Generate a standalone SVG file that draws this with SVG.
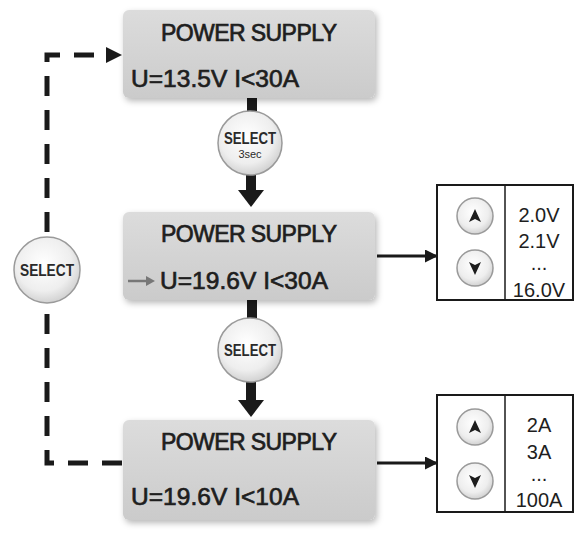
<svg xmlns="http://www.w3.org/2000/svg" width="587" height="537" viewBox="0 0 587 537">
<defs>
<linearGradient id="boxg" x1="0" y1="0" x2="0" y2="1">
<stop offset="0" stop-color="#dcdcdc"/>
<stop offset="1" stop-color="#cbcbcb"/>
</linearGradient>
<radialGradient id="btng" cx="0.45" cy="0.4" r="0.6">
<stop offset="0" stop-color="#ffffff"/>
<stop offset="0.7" stop-color="#eeeeee"/>
<stop offset="1" stop-color="#d2d2d2"/>
</radialGradient>
<filter id="sh" x="-10%" y="-15%" width="125%" height="140%">
<feDropShadow dx="2" dy="3" stdDeviation="3" flood-color="#000" flood-opacity="0.28"/>
</filter>
<marker id="ah" markerWidth="13" markerHeight="13" refX="12" refY="6.5" orient="auto" markerUnits="userSpaceOnUse">
<path d="M0,0 L13,6.5 L0,13 z" fill="#1a1a1a"/>
</marker>
</defs>
<style>
.box{fill:url(#boxg);filter:url(#sh)}
.t{font-family:"Liberation Sans",Arial,sans-serif;fill:#1e1e1e;stroke:#1e1e1e;stroke-width:0.7}
.ps{font-size:23px}
.u{font-size:24.5px}
.sel{font-family:"Liberation Sans",Arial,sans-serif;font-weight:bold;font-size:17px;fill:#2a2a2a;text-anchor:middle}
.btn{fill:url(#btng);stroke:#9a9a9a;stroke-width:1.5}
.panel{fill:#fff;stroke:#1a1a1a;stroke-width:2}
.val{font-family:"Liberation Sans",Arial,sans-serif;font-size:20px;fill:#1e1e1e;text-anchor:middle}
.dash{fill:none;stroke:#1a1a1a;stroke-width:5;stroke-dasharray:20 14}
.solid{fill:#1a1a1a}
</style>

<g id="connectors">
<rect class="solid" x="247" y="98" width="10" height="16"/>
<rect class="solid" x="246" y="174" width="10" height="17"/>
<polygon class="solid" points="238,190 264,190 251,207"/>
<rect class="solid" x="247" y="300" width="10" height="20"/>
<rect class="solid" x="246" y="380" width="10" height="22"/>
<polygon class="solid" points="238,400 264,400 251,417"/>
<line x1="377" y1="256" x2="437" y2="256" stroke="#1a1a1a" stroke-width="3" marker-end="url(#ah)"/>
<line x1="377" y1="463" x2="437" y2="463" stroke="#1a1a1a" stroke-width="3" marker-end="url(#ah)"/>
<path class="dash" d="M122,463 H47 V55 H106"/>
<polygon class="solid" points="106,47 122,55 106,63"/>
</g>

<g id="box1">
<rect class="box" x="123" y="10" width="252" height="88" rx="6"/>
<text class="t ps" x="249" y="41" text-anchor="middle" textLength="176">POWER SUPPLY</text>
<text class="t u" x="131" y="87" textLength="168">U=13.5V I&lt;30A</text>
</g>

<g id="select1">
<circle class="btn" cx="250" cy="143" r="32"/>
<text class="sel" x="250" y="144" textLength="52" lengthAdjust="spacingAndGlyphs">SELECT</text>
<text class="sel" x="250" y="158" style="font-size:11px;font-weight:normal">3sec</text>
</g>

<g id="box2">
<rect class="box" x="123" y="212" width="252" height="88" rx="6"/>
<text class="t ps" x="249" y="242" text-anchor="middle" textLength="176">POWER SUPPLY</text>
<path d="M128,281 H148" stroke="#777" stroke-width="2.5"/>
<polygon points="146,276 155,281 146,286" fill="#777"/>
<text class="t u" x="160" y="289" textLength="168">U=19.6V I&lt;30A</text>
</g>

<g id="select2">
<circle class="btn" cx="250" cy="350" r="32"/>
<text class="sel" x="250" y="356" textLength="52" lengthAdjust="spacingAndGlyphs">SELECT</text>
</g>

<g id="box3">
<rect class="box" x="123" y="420" width="252" height="100" rx="6"/>
<text class="t ps" x="249" y="450" text-anchor="middle" textLength="176">POWER SUPPLY</text>
<text class="t u" x="131" y="505" textLength="168">U=19.6V I&lt;10A</text>
</g>

<g id="selectLeft">
<circle class="btn" cx="47" cy="270" r="33"/>
<text class="sel" x="47" y="276" textLength="54" lengthAdjust="spacingAndGlyphs">SELECT</text>
</g>

<g id="panel1">
<rect class="panel" x="437" y="185" width="136" height="115"/>
<line x1="505" y1="185" x2="505" y2="300" stroke="#1a1a1a" stroke-width="1.5"/>
<circle class="btn" cx="475" cy="216" r="18"/>
<polygon points="469,222 475,209 481,222 475,219" fill="#1e1e1e"/>
<circle class="btn" cx="475" cy="268" r="18"/>
<polygon points="469,262 475,265 481,262 475,275" fill="#1e1e1e"/>
<text class="val" x="539" y="222">2.0V</text>
<text class="val" x="539" y="248">2.1V</text>
<text class="val" x="539" y="270">...</text>
<text class="val" x="539" y="297">16.0V</text>
</g>

<g id="panel2">
<rect class="panel" x="437" y="395" width="136" height="117"/>
<line x1="505" y1="395" x2="505" y2="512" stroke="#1a1a1a" stroke-width="1.5"/>
<circle class="btn" cx="475" cy="427" r="18"/>
<polygon points="469,433 475,420 481,433 475,430" fill="#1e1e1e"/>
<circle class="btn" cx="475" cy="481" r="18"/>
<polygon points="469,475 475,478 481,475 475,488" fill="#1e1e1e"/>
<text class="val" x="539" y="432">2A</text>
<text class="val" x="539" y="459">3A</text>
<text class="val" x="539" y="481">...</text>
<text class="val" x="539" y="507">100A</text>
</g>
</svg>
